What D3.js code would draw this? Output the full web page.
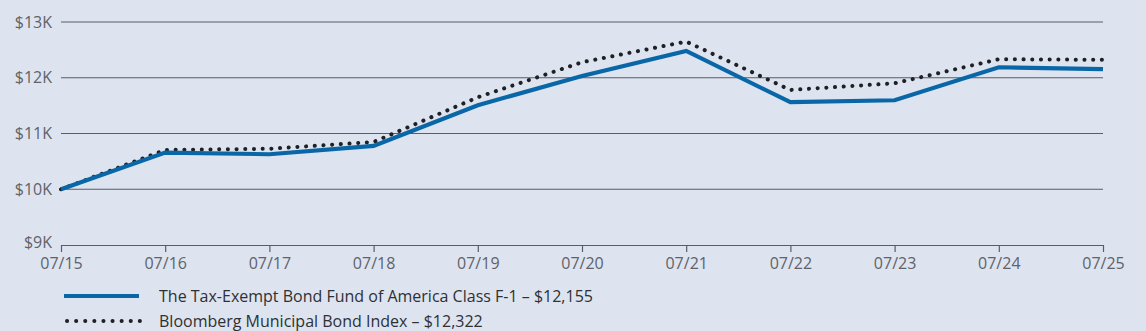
<!DOCTYPE html>
<html><head><meta charset="utf-8">
<script src="https://cdn.jsdelivr.net/npm/d3@7"></script>
<style>
html,body{margin:0;padding:0;background:#dde4f0;}
svg{display:block;font-family:"Open Sans",Lato,sans-serif;}
</style></head><body>
<svg id="c" width="1146" height="331"></svg>
<script>
const dates = ["07/15","07/16","07/17","07/18","07/19","07/20","07/21","07/22","07/23","07/24","07/25"];
const fundValues = [10000,10658,10628,10777,11507,12032,12481,11561,11596,12188,12155];
const indexValues = [10000,10705,10726,10848,11650,12278,12649,11781,11901,12332,12322];
const yTicks = [9000,10000,11000,12000,13000];
const yTickLabels = ["$9K","$10K","$11K","$12K","$13K"];
const seriesNames = ["The Tax-Exempt Bond Fund of America Class F-1 \u2013 $12,155","Bloomberg Municipal Bond Index \u2013 $12,322"];

const FONT = "'Open Sans',Lato,sans-serif";
const svg = d3.select("#c");
const x = d3.scalePoint().domain(dates).range([61,1103]);
const y = d3.scaleLinear().domain([9000,13000]).range([245,22]);

// gridlines
svg.append("g").selectAll("line").data(yTicks.slice(1)).join("line")
  .attr("x1",61).attr("x2",1103).attr("y1",d=>y(d)).attr("y2",d=>y(d))
  .attr("stroke","#5a5d63").attr("stroke-width",1.2);

// y labels
svg.append("g").selectAll("text").data(yTicks).join("text")
  .attr("x",52).attr("y",(d,i)=>y(d) - (i===0?3:0)).attr("dy","0.35em").attr("text-anchor","end")
  .attr("font-size",16).attr("fill","#5f6268").text((d,i)=>yTickLabels[i]);

// x axis
const xAxis = d3.axisBottom(x).tickSize(7).tickSizeOuter(0).tickPadding(6);
const gx = svg.append("g").attr("transform","translate(0,245)").call(xAxis);
gx.select(".domain").attr("stroke","#5a5d63").attr("stroke-width",1.2);
gx.selectAll(".tick line").attr("stroke","#5a5d63").attr("stroke-width",1.2);
gx.selectAll(".tick text").attr("font-size",16).attr("fill","#5f6268").attr("font-family",FONT).attr("y",13).attr("dy","0.71em");

const line = d3.line().x((d,i)=>x(dates[i])).y(d=>y(d));

svg.append("path").datum(indexValues).attr("d",line).attr("fill","none")
  .attr("stroke","#1f2024").attr("stroke-width",4).attr("stroke-linecap","round")
  .attr("stroke-dasharray","0.1 8.6");
svg.append("path").datum(fundValues).attr("d",line).attr("fill","none")
  .attr("stroke","#0a67a7").attr("stroke-width",4.2).attr("stroke-linejoin","miter");

// legend
const lg = svg.append("g");
lg.append("line").attr("x1",64).attr("x2",139).attr("y1",296).attr("y2",296)
  .attr("stroke","#0a67a7").attr("stroke-width",4);
lg.append("line").attr("x1",67).attr("x2",140).attr("y1",321).attr("y2",321)
  .attr("stroke","#1f2024").attr("stroke-width",4).attr("stroke-linecap","round")
  .attr("stroke-dasharray","0.1 9");
lg.selectAll("text").data(seriesNames).join("text")
  .attr("x",159).attr("y",(d,i)=>296+i*25).attr("dy","0.35em")
  .attr("font-size",16).attr("fill","#2e3034").text(d=>d);
</script></body></html>
